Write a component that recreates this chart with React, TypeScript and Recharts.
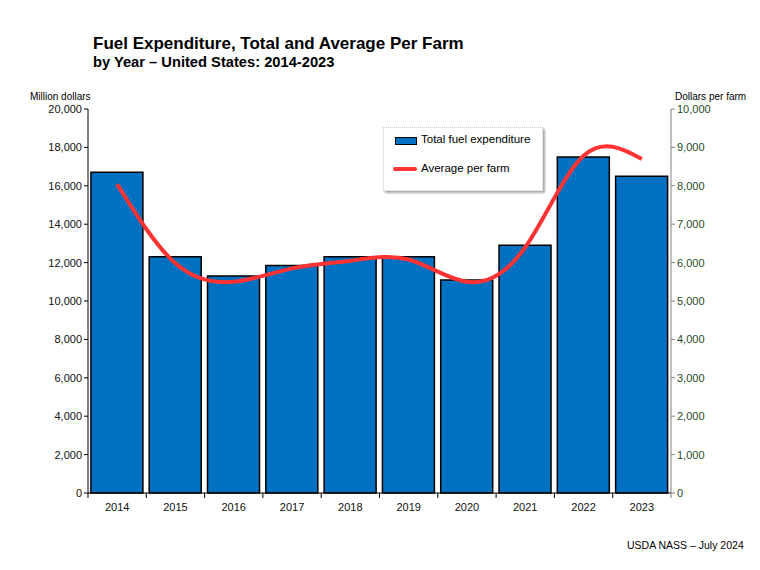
import { Bar, ComposedChart, Line, XAxis, YAxis } from 'recharts'

const years = ['2014', '2015', '2016', '2017', '2018', '2019', '2020', '2021', '2022', '2023']
const totalFuel = [16700, 12300, 11300, 11850, 12300, 12300, 11100, 12900, 17500, 16500]
const perFarm = [8040, 5980, 5500, 5850, 6050, 6080, 5500, 6400, 8780, 8700]
const leftTicks = [0, 2000, 4000, 6000, 8000, 10000, 12000, 14000, 16000, 18000, 20000]
const rightTicks = [0, 1000, 2000, 3000, 4000, 5000, 6000, 7000, 8000, 9000, 10000]

const data = years.map((year, i) => ({ year, total: totalFuel[i], avg: perFarm[i] }))

const font = '"Liberation Sans", Arial, sans-serif'
const W = 760
const H = 570
const margin = { top: 109, right: 29, bottom: 47, left: 28 }
const axisW = 60
const plotW = W - margin.left - margin.right - 2 * axisW
const half = plotW / years.length / 2

const fmt = (v: number) => v.toLocaleString('en-US')

function YearTick(props: any) {
    const { x, y, payload, index } = props
    const last = index === years.length - 1
    return (
        <g>
            <line x1={x - half} x2={x - half} y1={y - 8} y2={y - 3} stroke="#000" />
            {last && <line x1={x + half} x2={x + half} y1={y - 8} y2={y - 3} stroke="#808080" />}
            <text x={x} y={y + 10} textAnchor="middle" fontSize={11} fill="#111" fontFamily={font}>
                {payload.value}
            </text>
        </g>
    )
}

export default function App() {
    return (
        <div style={{ position: 'absolute', left: 0, top: 0, width: W, height: H, background: '#fff', fontFamily: font }}>
            <div style={{ position: 'absolute', left: 93, top: 35, fontSize: 17, fontWeight: 'bold', color: '#000', lineHeight: '18px' }}>
                Fuel Expenditure, Total and Average Per Farm
            </div>
            <div style={{ position: 'absolute', left: 93, top: 54, fontSize: 14.7, fontWeight: 'bold', color: '#000', lineHeight: '16px' }}>
                by Year – United States: 2014-2023
            </div>
            <div style={{ position: 'absolute', left: 30, top: 91, fontSize: 10, color: '#000' }}>Million dollars</div>
            <div style={{ position: 'absolute', left: 675, top: 91, fontSize: 10, color: '#000' }}>Dollars per farm</div>
            <div style={{ position: 'absolute', left: 627, top: 539, fontSize: 10.5, color: '#000' }}>USDA NASS – July 2024</div>

            <ComposedChart width={W} height={H} data={data} margin={margin} barCategoryGap="5%">
                <XAxis
                    dataKey="year"
                    height={30}
                    tickLine={false}
                    axisLine={{ stroke: '#000' }}
                    tick={<YearTick />}
                    interval={0}
                />
                <YAxis
                    yAxisId="left"
                    width={axisW}
                    domain={[0, 20000]}
                    ticks={leftTicks}
                    tickFormatter={fmt}
                    tickSize={4}
                    tick={{ fontSize: 11, fill: '#111', fontFamily: font }}
                    axisLine={{ stroke: '#000' }}
                    tickLine={{ stroke: '#000' }}
                    interval={0}
                />
                <YAxis
                    yAxisId="right"
                    orientation="right"
                    width={axisW}
                    domain={[0, 10000]}
                    ticks={rightTicks}
                    tickFormatter={fmt}
                    tickSize={4}
                    tick={{ fontSize: 11, fill: '#1f4a1f', fontFamily: font }}
                    axisLine={{ stroke: '#808080' }}
                    tickLine={{ stroke: '#808080' }}
                    interval={0}
                />
                <Bar yAxisId="left" dataKey="total" fill="#0070C0" stroke="#000" strokeWidth={1.5} isAnimationActive={false} />
                <Line
                    yAxisId="right"
                    dataKey="avg"
                    type="natural"
                    stroke="#FF3333"
                    strokeWidth={4}
                    dot={false}
                    activeDot={false}
                    isAnimationActive={false}
                />
            </ComposedChart>

            <div
                style={{
                    position: 'absolute',
                    left: 383,
                    top: 127,
                    width: 158,
                    height: 62,
                    background: '#fff',
                    border: '1px dotted #ccc',
                    boxShadow: '2px 2px 2px #aaa',
                    fontSize: 11.5,
                    color: '#000',
                }}
            >
                <div style={{ position: 'absolute', left: 11, top: 9, width: 20, height: 6, background: '#0070C0', border: '1.5px solid #000' }} />
                <div style={{ position: 'absolute', left: 37, top: 5 }}>Total fuel expenditure</div>
                <div style={{ position: 'absolute', left: 9, top: 39, width: 24, height: 4, background: '#FF3333', borderRadius: 2 }} />
                <div style={{ position: 'absolute', left: 37, top: 34 }}>Average per farm</div>
            </div>
        </div>
    )
}
